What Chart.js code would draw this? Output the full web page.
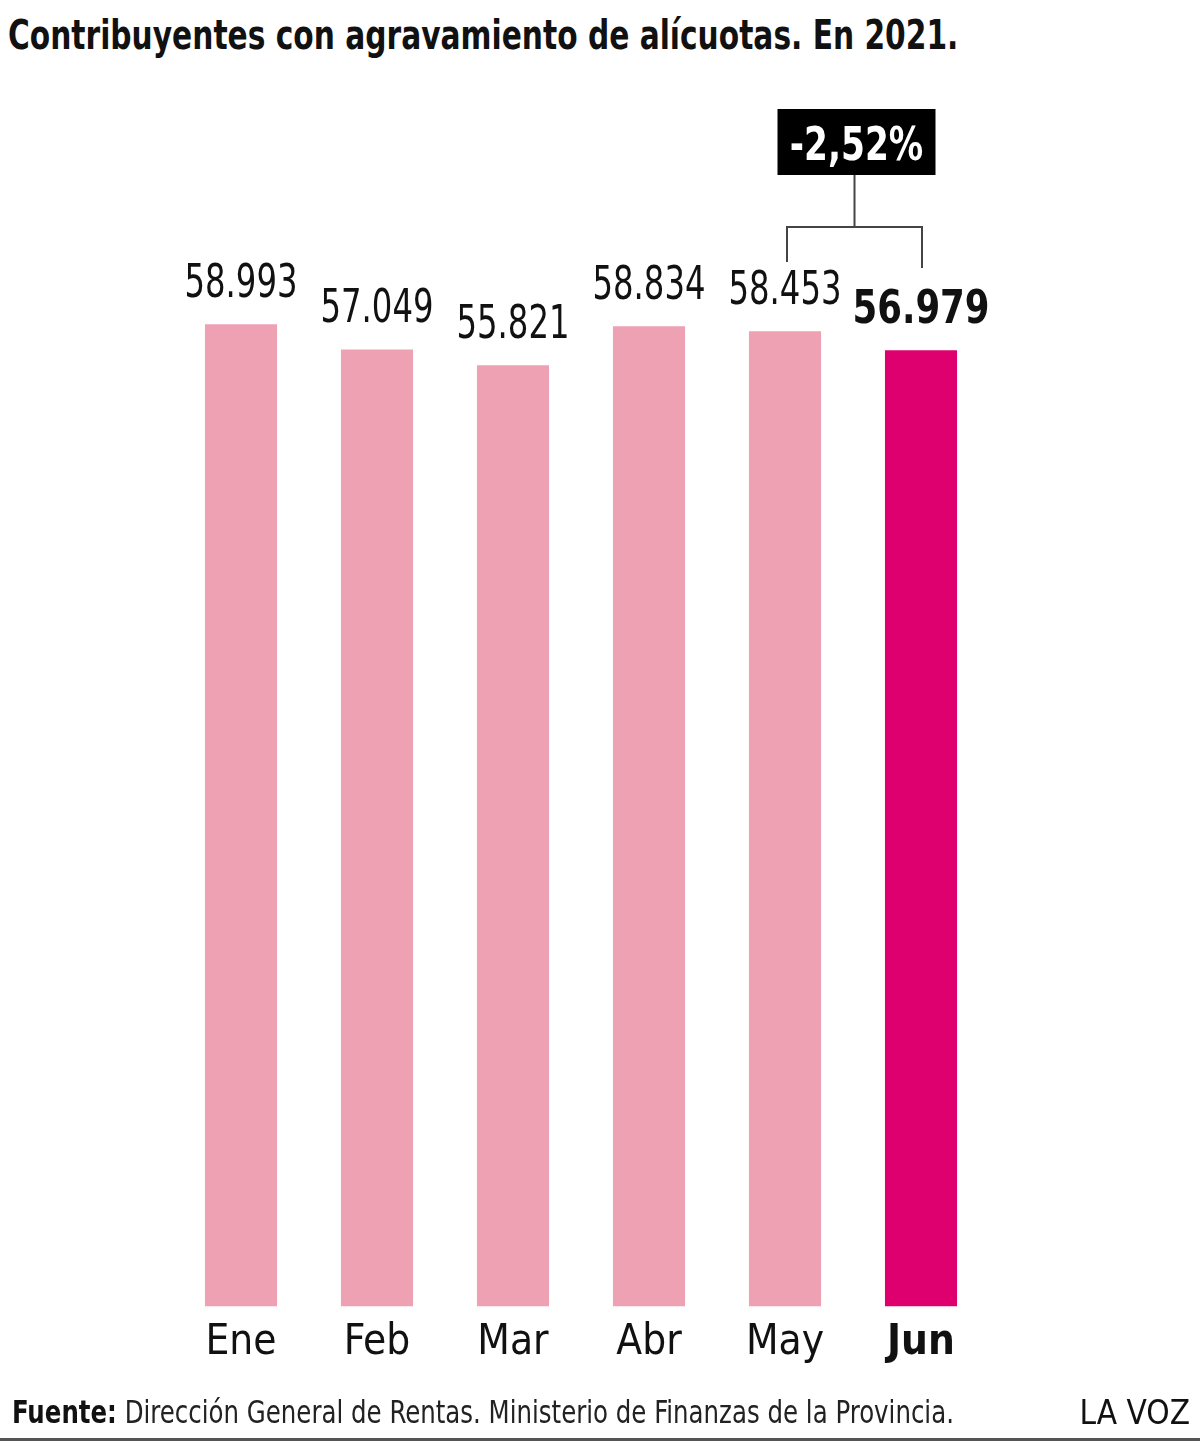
<!DOCTYPE html>
<html lang="es">
<head>
<meta charset="utf-8">
<script src="https://cdn.jsdelivr.net/npm/chart.js@4.4.1/dist/chart.umd.min.js"></script>
<style>
  html, body { margin: 0; padding: 0; background: #fff; }
  body { width: 1200px; height: 1446px; position: relative; overflow: hidden; font-family: "DejaVu Sans Condensed", "DejaVu Sans", sans-serif; color: #111; }
  #title { position: absolute; left: 8px; top: 11px; font-size: 41px; font-weight: bold; white-space: nowrap; transform: scaleX(0.805); transform-origin: left top; }
  #chart-wrap { position: absolute; left: 0; top: 0; width: 1200px; height: 1446px; }
  #footer { position: absolute; left: 12px; top: 1393px; font-size: 32px; white-space: nowrap; color: #222; transform: scaleX(0.85); transform-origin: left top; }
  #footer b { color: #111; }
  #brand { position: absolute; right: 10px; top: 1393px; font-size: 33px; color: #111; }
  #rule { position: absolute; left: 0; top: 1438px; width: 1200px; height: 3px; background: #555; }
</style>
</head>
<body>
<div id="title">Contribuyentes con agravamiento de alícuotas. En 2021.</div>
<div id="chart-wrap"><canvas id="chart" width="1200" height="1446"></canvas></div>
<div id="footer"><b>Fuente:</b> Dirección General de Rentas. Ministerio de Finanzas de la Provincia.</div>
<div id="brand">LA VOZ</div>
<div id="rule"></div>
<script>
const months = ["Ene", "Feb", "Mar", "Abr", "May", "Jun"];
const contribuyentes = [58993, 57049, 55821, 58834, 58453, 56979];
const variacion = "-2,52%";

const FONT = '"DejaVu Sans Condensed", "DejaVu Sans", sans-serif';
const LIGHT = "#efa1b4";
const STRONG = "#dd006e";
const Y_MIN = -16900;
const Y_MAX = 76320;
const last = months.length - 1;

function formatNumber(n) {
  return String(n).replace(/\B(?=(\d{3})+(?!\d))/g, ".");
}

// draw text squeezed horizontally, the original uses a condensed face
function narrowText(ctx, text, x, y, sx) {
  ctx.save();
  ctx.translate(x, y);
  ctx.scale(sx, 1);
  ctx.fillText(text, 0, 0);
  ctx.restore();
}

const valueLabels = {
  id: "valueLabels",
  afterDatasetsDraw(chart) {
    const { ctx } = chart;
    const meta = chart.getDatasetMeta(0);
    ctx.save();
    ctx.textAlign = "center";
    ctx.textBaseline = "alphabetic";
    ctx.fillStyle = "#111";
    meta.data.forEach((bar, i) => {
      const bold = i === last;
      ctx.font = bold ? `bold 47px ${FONT}` : `46px ${FONT}`;
      narrowText(ctx, formatNumber(contribuyentes[i]), bar.x, bar.y - 27, bold ? 0.84 : 0.78);
    });
    ctx.restore();
  }
};

const changeBracket = {
  id: "changeBracket",
  afterDatasetsDraw(chart) {
    const { ctx } = chart;
    const meta = chart.getDatasetMeta(0);
    const a = meta.data[last - 1], b = meta.data[last];
    const left = a.x + 2, right = b.x + 1;
    const mid = (left + right) / 2;
    const top = 227;
    ctx.save();
    ctx.strokeStyle = "#444";
    ctx.lineWidth = 2;
    ctx.beginPath();
    ctx.moveTo(left, 262); ctx.lineTo(left, top);
    ctx.lineTo(right, top); ctx.lineTo(right, 268);
    ctx.moveTo(mid, top); ctx.lineTo(mid, 174);
    ctx.stroke();
    ctx.fillStyle = "#000";
    ctx.fillRect(mid - 77, 109, 158, 66);
    ctx.fillStyle = "#fff";
    ctx.font = `bold 46px ${FONT}`;
    ctx.textAlign = "center";
    ctx.textBaseline = "alphabetic";
    narrowText(ctx, variacion, mid + 2, 160, 0.83);
    ctx.restore();
  }
};

new Chart(document.getElementById("chart"), {
  type: "bar",
  data: {
    labels: months,
    datasets: [{
      data: contribuyentes,
      base: Y_MIN,
      backgroundColor: months.map((m, i) => i === last ? STRONG : LIGHT),
      barPercentage: 1,
      categoryPercentage: 0.53
    }]
  },
  options: {
    responsive: false,
    animation: false,
    layout: { padding: { top: 100, left: 173, right: 211, bottom: 75 } },
    plugins: { legend: { display: false }, tooltip: { enabled: false } },
    scales: {
      x: {
        grid: { display: false },
        border: { display: false },
        ticks: {
          padding: 3,
          color: "#111",
          font: ctx => ({ family: FONT, size: 42, weight: ctx.index === last ? "bold" : "normal" })
        }
      },
      y: { display: false, min: Y_MIN, max: Y_MAX }
    }
  },
  plugins: [valueLabels, changeBracket]
});
</script>
</body>
</html>
